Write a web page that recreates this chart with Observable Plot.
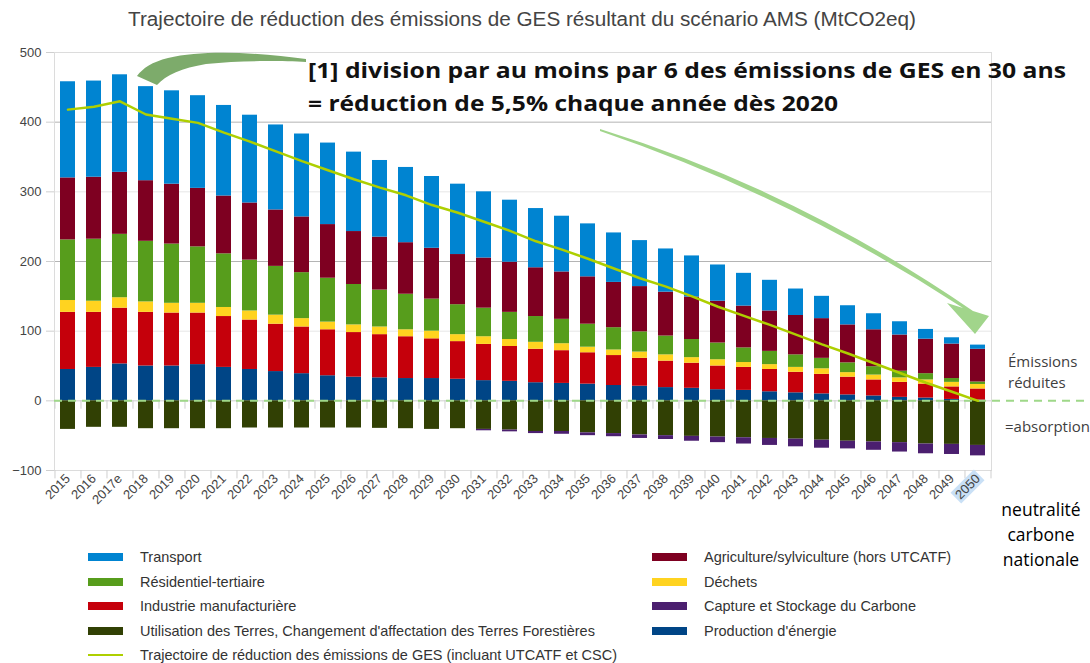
<!DOCTYPE html>
<html><head><meta charset="utf-8">
<script src="https://cdn.jsdelivr.net/npm/d3@7"></script>
<script src="https://cdn.jsdelivr.net/npm/@observablehq/plot@0.6"></script>
<style>
body{margin:0;background:#fff;}
#wrap{position:relative;width:1090px;height:663px;overflow:hidden;font-family:"Liberation Sans",Arial,sans-serif;}
#chart{position:absolute;left:0;top:0;}
#overlay{position:absolute;left:0;top:0;pointer-events:none;}
.lg{position:absolute;font-size:14.5px;color:#333;white-space:nowrap;line-height:16px;}
.sw{position:absolute;width:35px;height:8px;}
</style></head><body>
<div id="wrap"><div id="chart"></div><div id="legend"></div>
<svg id="overlay" width="1090" height="663" xmlns="http://www.w3.org/2000/svg"></svg></div>
<script>
const years = ["2015","2016","2017e","2018","2019","2020","2021","2022","2023","2024","2025","2026","2027","2028","2029","2030","2031","2032","2033","2034","2035","2036","2037","2038","2039","2040","2041","2042","2043","2044","2045","2046","2047","2048","2049","2050"];
const energie = [45,48,53,50,50,52,48,45,42,39,36,34,33,32,32,31,29,28,26,25,24,22,21,19,18,16,15,13,11.5,10,8.5,7,5,4,2,1];
const industrie = [82,79,80,77,76,74,73,71,68,67,66,64,62,60,57,54,52,50,48,47,45,43,40,38,36,34,33,32,29.5,28,25.5,23,21.5,20,18,16];
const dechets = [17,16,15,15,14,14,13,13,13,12,11,11,11,10,11,10,11,10,10,10,8,8,9,9,8,9,7,7,7,8,6.5,7,6.5,6,6.5,6.5];
const residentiel = [87,89,91,87,85,81,77,73,70,66,63,58,53,51,46,43,41,39,37,35,33,32,29,27,26,24,21,19,18,15,14,12,9.5,9,5.5,3.5];
const agriculture = [89,89,89,87,86,84,83,82,81,80,77,76,76,74,73,72,72,72,70,68,68,65,65,63,61,60,60,58,56.5,57,54.5,53,52,49.5,49.5,47];
const transport = [138,138,140,135,134,133,130,126,122,119,117,114,110,108,103,101,95,89,85,80,76,71,66,62,59,52,47,44,38,32,27.5,23,19,14,9,6];
const utcatf = [-41,-38,-38,-40,-40,-40,-40,-39,-39,-39,-39,-39,-39.5,-40,-41,-40,-41,-42,-44,-44,-46,-47,-49,-50,-51,-52,-53,-54,-55,-56.5,-58,-59,-60,-62,-62.5,-64];
const csc = [0,0,0,0,0,0,0,0,0,0,0,0,0,0,0,0,-2,-2.5,-3,-4,-4,-4.5,-5,-5.5,-7,-8,-9,-10,-11,-11.5,-11,-12,-13.5,-14,-14.5,-15];
const trajectoire = [418,422,430,411,405,399,385,372,358,344,331,318,306,295,281,270,257,244,229,217,204,190,176,164,150,135,122,109,95,81,68,54,40,26,13,0];

const seriesNames = ["Production d'énergie","Industrie manufacturière","Déchets","Résidentiel-tertiaire","Agriculture/sylviculture (hors UTCATF)","Transport","Utilisation des Terres, Changement d'affectation des Terres Forestières","Capture et Stockage du Carbone"];
const seriesValues = [energie, industrie, dechets, residentiel, agriculture, transport, utcatf, csc];
const seriesColors = ["#004586","#c5000b","#ffd320","#579d1c","#7e0021","#0084d1","#314004","#4b1f6f"];
const lineName = "Trajectoire de réduction des émissions de GES (incluant UTCATF et CSC)";
const lineColor = "#aecf00";
const yTicks = [-100,0,100,200,300,400,500];
const legendLeft = ["Transport","Résidentiel-tertiaire","Industrie manufacturière","Utilisation des Terres, Changement d'affectation des Terres Forestières"];
const legendRight = ["Agriculture/sylviculture (hors UTCATF)","Déchets","Capture et Stockage du Carbone","Production d'énergie"];
const titleText = "Trajectoire de réduction des émissions de GES résultant du scénario AMS (MtCO2eq)";
const note1 = "[1] division par au moins par 6 des émissions de GES en 30 ans";
const note2 = "= réduction de 5,5% chaque année dès 2020";

const rows = years.flatMap((yr, i) => seriesNames.map((s, k) => ({year: yr, series: s, value: seriesValues[k][i]})));
const lineRows = years.map((yr, i) => ({year: yr, value: trajectoire[i]}));

const W = 1090, H = 520, ML = 54, MR = 99, MT = 52, MB = 50;
const step = (W - ML - MR) / years.length;

const chart = Plot.plot({
  width: W, height: H, marginLeft: ML, marginRight: MR, marginTop: MT, marginBottom: MB,
  style: {fontFamily: "'Liberation Sans', Arial, sans-serif", background: "transparent"},
  x: {type: "band", domain: years, paddingInner: 0.44, paddingOuter: 0.22, label: null},
  y: {domain: [-100, 500], label: null},
  color: {domain: seriesNames, range: seriesColors},
  marks: [
    Plot.gridY([100, 300, 500], {stroke: "#e6e6e6", strokeOpacity: 1}),
    Plot.gridY([200, 400], {stroke: "#b4b4b4", strokeOpacity: 1}),
    Plot.frame({stroke: "#dcdcdc"}),
    Plot.ruleY([0], {stroke: "#cfcfcf"}),
    Plot.ruleX(years, {x: d => d, y1: -100, y2: -112, dx: -step / 2, stroke: "#cfcfcf"}),
    Plot.ruleX(years, {x: d => d, y1: 0, y2: -12, dx: -step / 2, stroke: "#cfcfcf"}),
    Plot.ruleX(years.slice(-1), {x: d => d, y1: -100, y2: -112, dx: step / 2, stroke: "#cfcfcf"}),
    Plot.axisY(yTicks, {tickSize: 8, tickPadding: 5, stroke: "#cfcfcf", fill: "#444", fontSize: 13, label: null}),
    Plot.axisX({tickRotate: -45, tickSize: 0, tickPadding: 6, fill: "#444", fontSize: 13, label: null}),
    Plot.barY(rows, {x: "year", y: "value", fill: "series"}),
    Plot.ruleY([0], {stroke: "#9fd889", strokeWidth: 2, strokeDasharray: "8,6", insetRight: -MR}),
    Plot.lineY(lineRows, {x: "year", y: "value", stroke: lineColor, strokeWidth: 2.5})
  ]
});
document.getElementById("chart").appendChild(chart);

// highlight the 2050 tick label
chart.querySelectorAll("text").forEach(t => {
  if (t.textContent === "2050") {
    const b = t.getBBox();
    const r = document.createElementNS("http://www.w3.org/2000/svg", "rect");
    r.setAttribute("x", b.x - 2); r.setAttribute("y", b.y);
    r.setAttribute("width", b.width + 4); r.setAttribute("height", b.height);
    r.setAttribute("fill", "#c9e0f6");
    if (t.getAttribute("transform")) r.setAttribute("transform", t.getAttribute("transform"));
    t.parentNode.insertBefore(r, t);
  }
});

// legend
const legend = document.getElementById("legend");
const colorOf = s => seriesColors[seriesNames.indexOf(s)];
function addItem(x, y, label, color, isLine) {
  const sw = document.createElement("div");
  sw.className = "sw";
  sw.style.left = x + "px";
  if (isLine) { sw.style.top = (y - 1) + "px"; sw.style.height = "2px"; }
  else { sw.style.top = (y - 4) + "px"; }
  sw.style.background = color;
  legend.appendChild(sw);
  const lb = document.createElement("div");
  lb.className = "lg";
  lb.style.left = (x + 52) + "px";
  lb.style.top = (y - 8) + "px";
  lb.textContent = label;
  legend.appendChild(lb);
}
const rowY = [557, 581.5, 606, 630.5, 655];
legendLeft.forEach((s, i) => addItem(88, rowY[i], s, colorOf(s), false));
addItem(88, rowY[4], lineName, lineColor, true);
legendRight.forEach((s, i) => addItem(652, rowY[i], s, colorOf(s), false));

// annotations overlay
const ov = document.getElementById("overlay");
ov.innerHTML = `
<text x="522" y="26" text-anchor="middle" font-family="Liberation Sans, Arial, sans-serif" font-size="19.5" fill="#444" textLength="788" lengthAdjust="spacingAndGlyphs">${titleText}</text>
<path d="M306,59 C262,53 205,49 168,58 C152,62 143,68 137,76 L157,85 C166,75 182,68 206,64 C242,60 282,61 306,62 Z" fill="#7dab6b"/>
<path d="M600,129 Q797,190 973,311 L989,316 L975,334 L947,303 L963,308 Q793,197 600,131 Z" fill="#a1d58b"/>
<text x="308" y="78" font-family="Open Sans, Noto Sans, sans-serif" font-weight="bold" font-size="22" fill="#111" textLength="758" lengthAdjust="spacingAndGlyphs">${note1}</text>
<text x="308" y="111" font-family="Open Sans, Noto Sans, sans-serif" font-weight="bold" font-size="22" fill="#111" textLength="530" lengthAdjust="spacingAndGlyphs">${note2}</text>
<g font-family="Open Sans, Noto Sans, sans-serif" font-size="15" fill="#404040">
<text x="1008" y="367">Émissions</text>
<text x="1008" y="388">réduites</text>
<text x="1005" y="432">=absorption</text>
</g>
<g font-family="Open Sans, Noto Sans, sans-serif" font-size="17.5" fill="#000" text-anchor="middle">
<text x="1041" y="516">neutralité</text>
<text x="1041" y="541">carbone</text>
<text x="1041" y="566">nationale</text>
</g>`;
</script>
</body></html>
